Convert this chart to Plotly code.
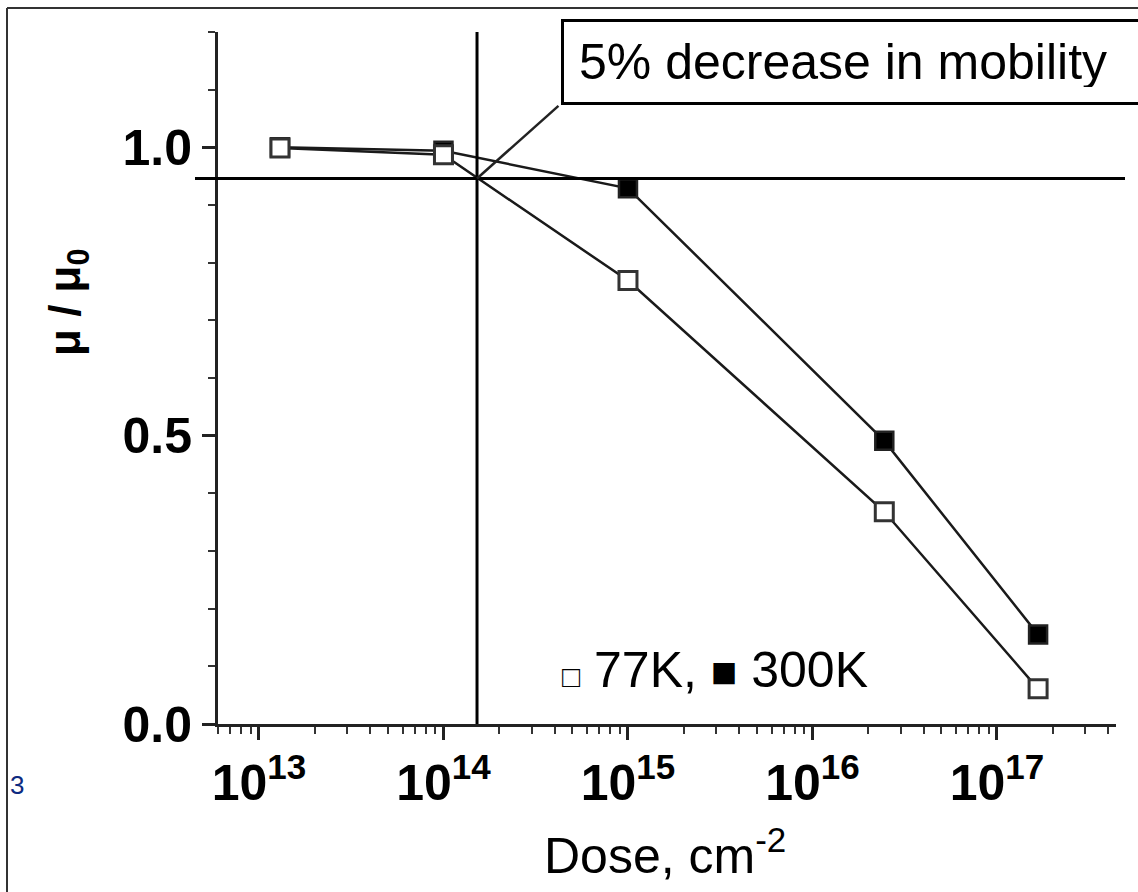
import plotly.graph_objects as go

# ---- data ----
dose_77k = [1.3e13, 1.0e14, 1.0e15, 2.45e16, 1.67e17]
mob_77k = [0.999, 0.987, 0.769, 0.368, 0.061]
dose_300k = [1.3e13, 1.0e14, 1.0e15, 2.45e16, 1.67e17]
mob_300k = [1.0, 0.994, 0.929, 0.491, 0.155]
threshold_mob = 0.946
threshold_dose = 1.52e14
arrow_end = (4.2e14, 1.072)
decades = [13, 14, 15, 16, 17]
x_tickvals = [10 ** d for d in decades]
x_ticktext = ["10<sup>%d</sup>" % d for d in decades]
y_tickvals = [0.0, 0.5, 1.0]
y_ticktext = ["0.0", "0.5", "1.0"]

W, H = 1138, 892
L, R, T, B = 218, 22, 32, 168
pw, ph = W - L - R, H - T - B


def px(x):
    return (x - L) / pw


def py(y):
    return (H - B - y) / ph


FONT = "Liberation Sans"
INK = "#1a1a1a"

fig = go.Figure()
fig.add_trace(go.Scatter(
    x=dose_300k, y=mob_300k, mode="lines+markers", name="300K",
    line=dict(color=INK, width=2.5),
    marker=dict(symbol="square", size=18, color="black", line=dict(color="#222", width=2.5)),
    cliponaxis=False, showlegend=False))
fig.add_trace(go.Scatter(
    x=dose_77k, y=mob_77k, mode="lines+markers", name="77K",
    line=dict(color=INK, width=2.5),
    marker=dict(symbol="square", size=18, color="white", line=dict(color="#333", width=3)),
    cliponaxis=False, showlegend=False))

minor_vals = [k * 10 ** n for n in range(12, 18) for k in range(2, 10)]

fig.update_xaxes(
    type="log", range=[12.778, 17.645], tickmode="array", tickvals=x_tickvals, ticktext=x_ticktext,
    tickangle=0,
    showgrid=False, zeroline=False, showline=True, linecolor="#222", linewidth=3,
    ticks="outside", ticklen=13, tickwidth=2.5, tickcolor="#222",
    tickfont=dict(family=FONT, size=50, color="black", weight="bold"),
    minor=dict(tickvals=minor_vals, ticks="outside", ticklen=7, tickwidth=2, tickcolor="#333", showgrid=False),
)
fig.update_yaxes(
    range=[0, 1.2], tickmode="array", tickvals=y_tickvals, ticktext=y_ticktext,
    showgrid=False, zeroline=False, showline=True, linecolor="#222", linewidth=3,
    ticks="outside", ticklen=13, tickwidth=2.5, tickcolor="#222",
    tickfont=dict(family=FONT, size=50, color="black", weight="bold"),
    minor=dict(tickmode="linear", tick0=0, dtick=0.1, ticks="outside", ticklen=7, tickwidth=2,
               tickcolor="#333", showgrid=False),
)

shapes = [
    # 5% threshold horizontal line
    dict(type="line", xref="paper", yref="y", x0=px(195), x1=px(1125), y0=threshold_mob, y1=threshold_mob,
         line=dict(color="black", width=3)),
    # vertical line at threshold dose
    dict(type="line", xref="x", yref="paper", x0=threshold_dose, x1=threshold_dose, y0=0, y1=1,
         line=dict(color="black", width=3)),
    # pointer line to the label box
    dict(type="line", xref="x", yref="y", x0=threshold_dose, y0=threshold_mob, x1=arrow_end[0], y1=arrow_end[1],
         line=dict(color="#222", width=2.5)),
    # image frame (top and left)
    dict(type="line", xref="paper", yref="paper", x0=px(7), x1=px(1140), y0=py(8), y1=py(8),
         line=dict(color="#333", width=2)),
    dict(type="line", xref="paper", yref="paper", x0=px(7), x1=px(7), y0=py(8), y1=py(895),
         line=dict(color="#333", width=2)),
]

annotations = [
    dict(text="5% decrease in mobility", xref="paper", yref="paper", x=px(561), y=py(19),
         xanchor="left", yanchor="top", showarrow=False, align="left", valign="middle",
         width=620, height=50, borderpad=15, bordercolor="black", borderwidth=3, bgcolor="white",
         font=dict(family=FONT, size=50, color="black")),
    dict(text="<span style='font-size:30px'>□</span> 77K, <span style='font-size:44px'>■</span> 300K",
         xref="paper", yref="paper", x=px(560), y=py(670), xanchor="left", yanchor="middle",
         showarrow=False, font=dict(family=FONT, size=50, color="black")),
    dict(text="Dose, cm<sup>-2</sup>", xref="paper", yref="paper", x=px(665), y=py(852),
         xanchor="center", yanchor="middle", showarrow=False,
         font=dict(family=FONT, size=50, color="black")),
    dict(text="μ / μ<sub>0</sub>", xref="paper", yref="paper", x=px(68), y=py(302), textangle=-90,
         xanchor="center", yanchor="middle", showarrow=False,
         font=dict(family=FONT, size=44, color="black", weight="bold")),
    dict(text="3", xref="paper", yref="paper", x=px(8), y=py(785), xanchor="left", yanchor="middle",
         showarrow=False, font=dict(family=FONT, size=26, color="#0d2a80")),
]

fig.update_layout(
    width=W, height=H, margin=dict(l=L, r=R, t=T, b=B, autoexpand=False),
    paper_bgcolor="white", plot_bgcolor="white",
    shapes=shapes, annotations=annotations, showlegend=False,
)

fig.write_html("out.html")
